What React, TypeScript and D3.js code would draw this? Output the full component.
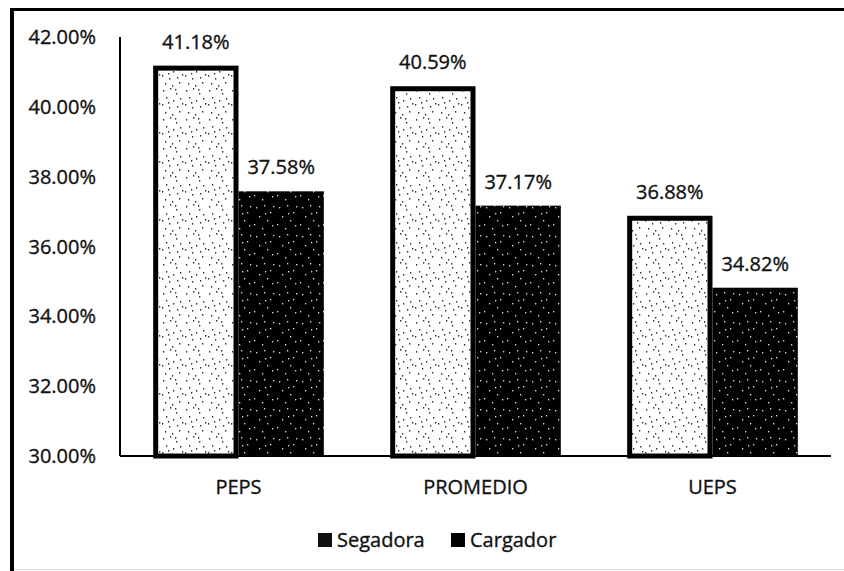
import React from "react";
import * as d3 from "d3";

const categories = ["PEPS", "PROMEDIO", "UEPS"];
const seriesNames = ["Segadora", "Cargador"];
const segadora = [41.18, 40.59, 36.88];
const cargador = [37.58, 37.17, 34.82];
const yTicks = [30, 32, 34, 36, 38, 40, 42];

const W = 844;
const H = 571;
const FONT = "'Open Sans', 'Noto Sans', sans-serif";

// fixed texture dots for the stipple patterns (styling only)
const dotsA = [
  [2, 3], [9, 1], [15, 6], [5, 10], [12, 13], [19, 11], [1, 17], [8, 20],
  [16, 19], [4, 25], [11, 27], [18, 24], [14, 2], [21, 16], [7, 15],
];
const dotsB = [
  [3, 4], [11, 2], [17, 9], [6, 13], [14, 17], [1, 21], [9, 25], [19, 22],
  [20, 3], [12, 10],
];

const textStyle = {
  fontFamily: FONT,
  fontSize: 20,
  fill: "#111",
  stroke: "#111",
  strokeWidth: 0.35,
} as const;

export default function App() {
  const x0 = d3.scaleBand<string>().domain(categories).range([120, 831]).paddingInner(0.28).paddingOuter(0.14);
  const x1 = d3.scaleBand<string>().domain(seriesNames).range([0, x0.bandwidth()]).padding(0);
  const y = d3.scaleLinear().domain([30, 42]).range([456, 37]);
  const fmt = (v: number) => v.toFixed(2) + "%";
  const sw = 5;

  return (
    <svg width={W} height={H} style={{ position: "absolute", left: 0, top: 0, background: "#fff" }}>
      <defs>
        <pattern id="pSeg" width="23" height="29" patternUnits="userSpaceOnUse">
          <rect width="23" height="29" fill="#fff" />
          {dotsA.map(([a, b], i) => (
            <rect key={i} x={a} y={b} width={1.3} height={1.6} fill="#333" />
          ))}
        </pattern>
        <pattern id="pCar" width="23" height="29" patternUnits="userSpaceOnUse">
          <rect width="23" height="29" fill="#000" />
          {dotsB.map(([a, b], i) => (
            <rect key={i} x={a} y={b} width={1.3} height={1.4} fill="#ddd" />
          ))}
        </pattern>
      </defs>

      {/* outer frame */}
      <line x1={12} x2={12} y1={8} y2={571} stroke="#000" strokeWidth={4} />
      <line x1={10} x2={844} y1={9.5} y2={9.5} stroke="#000" strokeWidth={3} />
      <line x1={14} x2={844} y1={569.5} y2={569.5} stroke="#ddd" strokeWidth={1} />

      {/* y axis */}
      <line x1={120} x2={120} y1={y(42)} y2={y(30)} stroke="#000" strokeWidth={2} />
      {yTicks.map((t) => (
        <text key={t} x={96} y={y(t) + 7} textAnchor="end" {...textStyle}>
          {fmt(t)}
        </text>
      ))}

      {/* bars */}
      {categories.map((c, i) => {
        const gx = x0(c)!;
        const xs = gx + x1("Segadora")!;
        const xc = gx + x1("Cargador")!;
        const bw = x1.bandwidth();
        return (
          <g key={c}>
            <rect
              x={xc}
              y={y(cargador[i])}
              width={bw}
              height={y(30) - y(cargador[i])}
              fill="url(#pCar)"
            />
            <rect
              x={xs + sw / 2}
              y={y(segadora[i]) + sw / 2}
              width={bw - sw}
              height={y(30) - y(segadora[i]) - sw / 2}
              fill="url(#pSeg)"
              stroke="#000"
              strokeWidth={sw}
            />
            <text x={xs + bw / 2} y={y(segadora[i]) - 17} textAnchor="middle" {...textStyle}>
              {fmt(segadora[i])}
            </text>
            <text x={xc + bw / 2} y={y(cargador[i]) - 17} textAnchor="middle" {...textStyle}>
              {fmt(cargador[i])}
            </text>
            <text x={gx + x0.bandwidth() / 2} y={494} textAnchor="middle" {...textStyle}>
              {c}
            </text>
          </g>
        );
      })}

      {/* x axis */}
      <line x1={120} x2={831} y1={456} y2={456} stroke="#000" strokeWidth={2} />

      {/* legend */}
      <rect x={318} y={533} width={14} height={14} fill="#111" />
      <text x={337} y={547} {...textStyle}>Segadora</text>
      <rect x={451} y={533} width={14} height={14} fill="#000" />
      <text x={470} y={547} {...textStyle}>Cargador</text>
    </svg>
  );
}
